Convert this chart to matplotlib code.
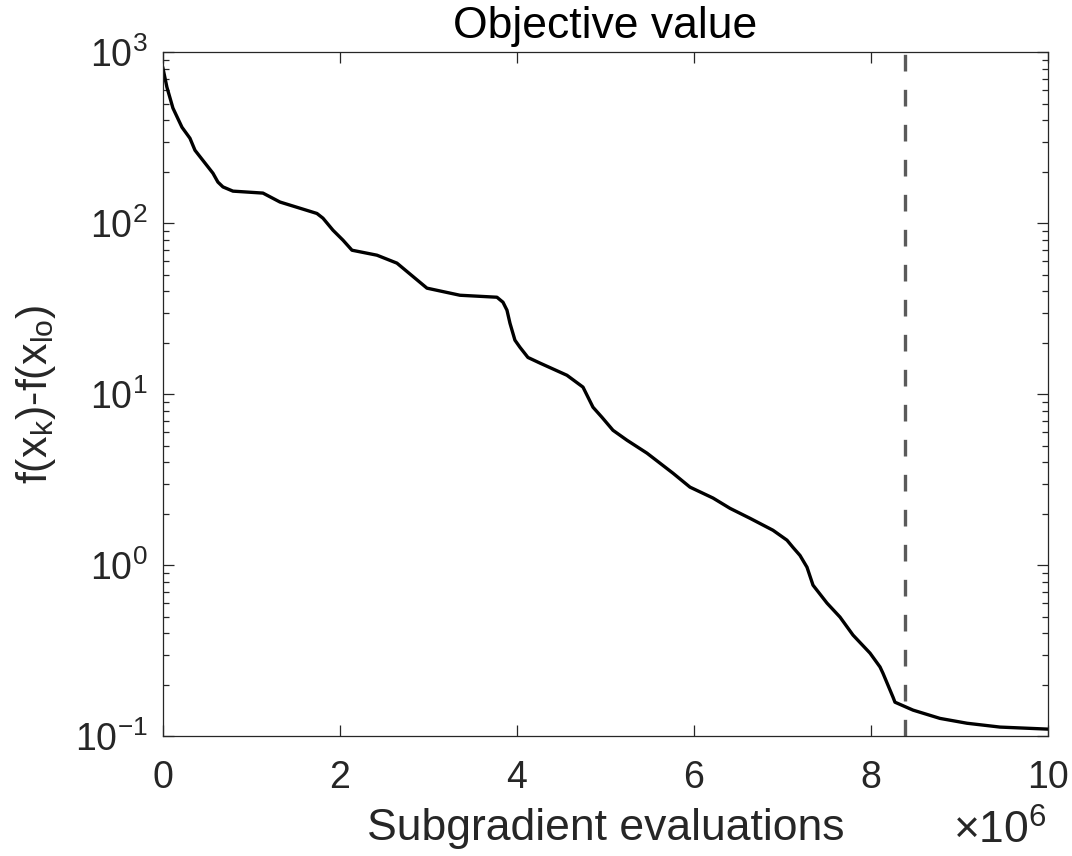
import matplotlib
matplotlib.use("Agg")
import matplotlib.pyplot as plt
from matplotlib.ticker import NullFormatter, LogLocator

plt.rcParams['font.family'] = ['Liberation Sans', 'DejaVu Sans']
plt.rcParams['mathtext.fontset'] = 'custom'
plt.rcParams['mathtext.rm'] = 'Liberation Sans'
plt.rcParams['mathtext.it'] = 'Liberation Sans'

# subgradient evaluations (x 1e6) and objective gap
evals = [0.0, 0.045, 0.113, 0.215, 0.305, 0.362, 0.565, 0.621, 0.678, 0.791,
         1.130, 1.322, 1.740, 1.808, 1.921, 2.034, 2.136, 2.418, 2.644, 2.983,
         3.356, 3.774, 3.842, 3.887, 3.921, 3.977, 4.034, 4.124, 4.260, 4.565,
         4.746, 4.859, 4.960, 5.085, 5.243, 5.469, 5.763, 5.955, 6.215, 6.407,
         6.633, 6.893, 7.051, 7.119, 7.198, 7.277, 7.345, 7.503, 7.650, 7.797,
         7.989, 8.102, 8.136, 8.249, 8.271, 8.475, 8.780, 9.085, 9.458, 9.989]
gap = [806, 624, 471, 364, 314, 267, 196, 174, 163, 154,
       150, 133, 114, 107, 91.0, 79.6, 69.5, 65.0, 58.4, 41.7,
       37.9, 36.9, 34.5, 31.0, 26.0, 20.7, 18.8, 16.4, 15.2, 12.9,
       11.0, 8.39, 7.33, 6.15, 5.38, 4.52, 3.45, 2.86, 2.47, 2.15,
       1.88, 1.60, 1.40, 1.27, 1.14, 0.973, 0.764, 0.600, 0.497, 0.390,
       0.306, 0.254, 0.233, 0.169, 0.158, 0.142, 0.127, 0.119, 0.113, 0.110]
stop_at = 8.384  # dashed marker, x 1e6

xticks = [0, 2, 4, 6, 8, 10]
yticks = [1e-1, 1e0, 1e1, 1e2, 1e3]
ytick_labels = [r'$\mathregular{10^{-1}}$', r'$\mathregular{10^{0}}$',
                r'$\mathregular{10^{1}}$', r'$\mathregular{10^{2}}$',
                r'$\mathregular{10^{3}}$']

fig = plt.figure(figsize=(10.72, 8.56), dpi=100)
ax = fig.add_axes([0.152, 0.140, 0.8256, 0.799])

ax.semilogy([e * 1e6 for e in evals], gap, color='black', lw=2.4,
            solid_joinstyle='round')
ax.axvline(stop_at * 1e6, color='#5a5a5a', lw=2.4, dashes=(5, 5.5))

ax.set_xlim(0, 10e6)
ax.set_ylim(1e-1, 1e3)
ax.set_xticks([t * 1e6 for t in xticks])
ax.set_xticklabels([str(t) for t in xticks])
ax.set_yticks(yticks)
ax.set_yticklabels(ytick_labels)
ax.yaxis.set_minor_locator(LogLocator(base=10, subs=range(2, 10), numticks=20))
ax.yaxis.set_minor_formatter(NullFormatter())

dark = '#262626'
for s in ax.spines.values():
    s.set_color(dark)
    s.set_linewidth(0.9)
ax.tick_params(which='both', direction='in', top=True, right=True,
               colors=dark, labelsize=27, width=0.9)
ax.tick_params(axis='x', which='major', length=8, pad=17)
ax.tick_params(axis='y', which='major', length=8, pad=11)
ax.tick_params(which='minor', length=4)

ax.set_title('Objective value', fontsize=32, color='black', pad=10)
ax.set_xlabel('Subgradient evaluations', fontsize=32, color=dark, labelpad=9)
ax.set_ylabel(r'f(x$_\mathregular{k}$)-f(x$_\mathregular{lo}$)', fontsize=31,
              color=dark, labelpad=12)
fig.text(1047 / 1072, 12 / 856, r'$\mathregular{\times 10^{6}}$', fontsize=32,
         color=dark, ha='right', va='baseline')

fig.savefig('out.png', dpi=100)
